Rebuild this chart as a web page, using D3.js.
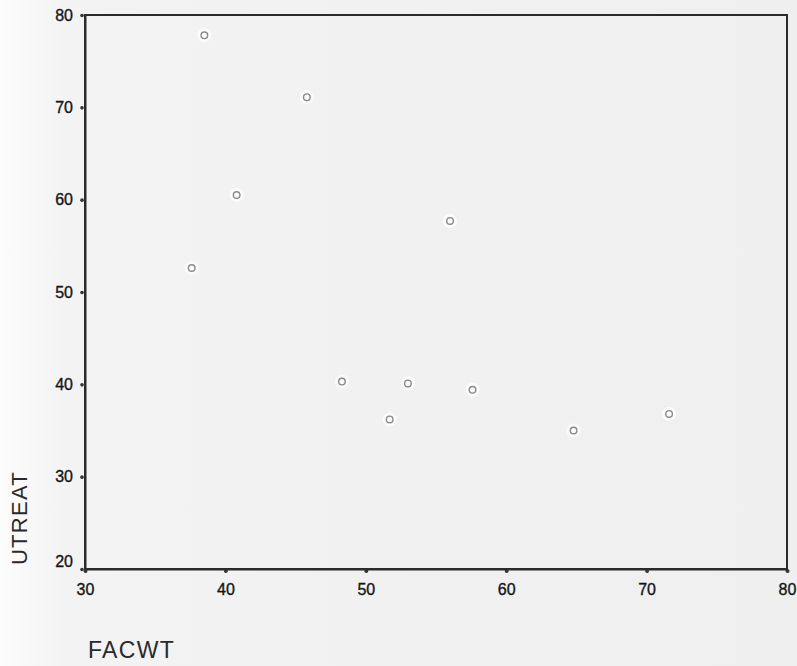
<!DOCTYPE html>
<html>
<head>
<meta charset="utf-8">
<script src="https://cdn.jsdelivr.net/npm/d3@7"></script>
<style>
  html, body { margin: 0; padding: 0; background: #f1f1f1; }
  svg { display: block; }
</style>
</head>
<body>
<svg id="chart" width="797" height="666"></svg>
<script>
// FACWT vs UTREAT observations
const facwt  = [38.5, 45.8, 40.8, 37.6, 56.0, 48.3, 51.7, 53.0, 57.6, 64.8, 71.6];
const utreat = [77.8, 71.1, 60.5, 52.6, 57.7, 40.3, 36.2, 40.1, 39.4, 35.0, 36.8];
const xTicks = [30, 40, 50, 60, 70, 80];
const yTicks = [20, 30, 40, 50, 60, 70, 80];

const FONT = "'Liberation Sans', Arial, sans-serif";
const svg = d3.select("#chart");
const W = 797, H = 666;
const margin = { left: 85, right: 10, top: 15, bottom: 97 };

// paper-like background, lighter toward the left edge
const defs = svg.append("defs");
const grad = defs.append("linearGradient").attr("id", "bg").attr("x1", 0).attr("x2", 1).attr("y1", 0).attr("y2", 0);
grad.append("stop").attr("offset", "0%").attr("stop-color", "#fcfcfc");
grad.append("stop").attr("offset", "8%").attr("stop-color", "#f3f3f3");
grad.append("stop").attr("offset", "100%").attr("stop-color", "#efefef");
svg.append("rect").attr("width", W).attr("height", H).attr("fill", "url(#bg)");

const blur = defs.append("filter").attr("id", "soft");
blur.append("feGaussianBlur").attr("stdDeviation", 0.6);

const x = d3.scaleLinear().domain([30, 80]).range([margin.left, W - margin.right]);
const y = d3.scaleLinear().domain([20, 80]).range([H - margin.bottom, margin.top]);

// frame
svg.append("rect")
  .attr("x", x(30)).attr("y", y(80))
  .attr("width", x(80) - x(30)).attr("height", y(20) - y(80))
  .attr("fill", "none").attr("stroke", "#2b2b2b").attr("stroke-width", 2);

// axes with dot-style ticks
const xAxis = svg.append("g").attr("transform", `translate(0,${y(20)})`)
  .call(d3.axisBottom(x).tickValues(xTicks).tickSize(0).tickPadding(15).tickFormat(d3.format("d")));
const yAxis = svg.append("g").attr("transform", `translate(${x(30)},0)`)
  .call(d3.axisLeft(y).tickValues(yTicks).tickSize(0).tickPadding(12).tickFormat(d3.format("d")));
[xAxis, yAxis].forEach(g => {
  g.attr("font-size", 16).attr("font-family", FONT);
  g.select(".domain").attr("stroke", "#2b2b2b").attr("stroke-width", 2);
  g.selectAll("text").attr("fill", "#151515").attr("stroke", "#151515").attr("stroke-width", 0.35);
});
xAxis.selectAll(".tick").append("circle").attr("cx", 0).attr("cy", 2).attr("r", 2).attr("fill", "#333");
yAxis.selectAll(".tick").append("circle").attr("cx", -3).attr("cy", 0).attr("r", 1.8).attr("fill", "#333");
yAxis.selectAll(".tick text").filter(d => d === 20).attr("dy", "-0.15em");

// data markers
const pts = facwt.map((v, i) => ({ fx: v, uy: utreat[i] }));
const g = svg.append("g").attr("filter", "url(#soft)");
g.selectAll("circle.halo").data(pts).join("circle").attr("class", "halo")
  .attr("cx", d => x(d.fx)).attr("cy", d => y(d.uy)).attr("r", 7).attr("fill", "#fbfbfb");
g.selectAll("circle.pt").data(pts).join("circle").attr("class", "pt")
  .attr("cx", d => x(d.fx)).attr("cy", d => y(d.uy)).attr("r", 3.3)
  .attr("fill", "none").attr("stroke", "#8a8a8a").attr("stroke-width", 1.4);

// axis titles
svg.append("text").attr("x", 88).attr("y", 658)
  .attr("font-family", FONT).attr("font-size", 23).attr("letter-spacing", 1.3)
  .attr("fill", "#2a2a2a").text("FACWT");
svg.append("text")
  .attr("transform", `translate(27,518) rotate(-90)`)
  .attr("text-anchor", "middle").attr("font-family", FONT).attr("font-size", 22).attr("letter-spacing", 1.3)
  .attr("fill", "#2a2a2a").text("UTREAT");
</script>
</body>
</html>
